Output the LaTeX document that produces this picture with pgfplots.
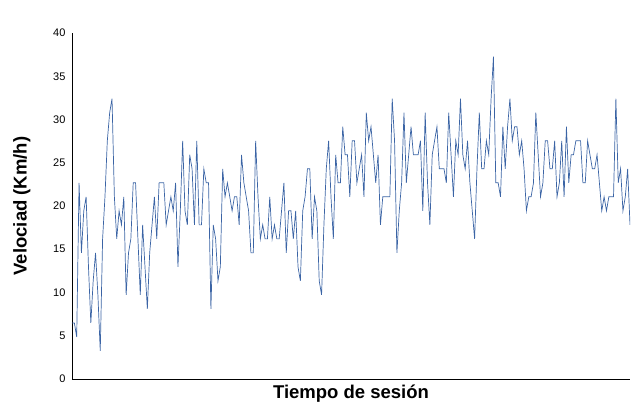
\documentclass[border=0pt]{standalone}
\usepackage{fontspec}
\setmainfont{Liberation Sans}
\usepackage{pgfplots}
\pgfplotsset{compat=1.18}
\usepackage{pgfplotstable}
\usetikzlibrary{calc}
\definecolor{serie}{RGB}{59,100,165}

% velocidad por muestra (km/h)
\pgfplotstableread{
y
6.48
6.48
4.86
22.68
14.58
19.44
21.06
12.96
6.48
11.34
14.58
9.72
3.24
16.20
21.06
27.54
30.78
32.40
21.06
16.20
19.44
17.82
21.06
9.72
14.58
16.20
22.68
22.68
16.20
9.72
17.82
12.96
8.10
14.58
17.82
21.06
16.20
22.68
22.68
22.68
17.82
19.44
21.06
19.44
22.68
12.96
19.44
27.54
19.44
17.82
25.92
24.30
17.82
27.54
17.82
17.82
24.30
22.68
22.68
8.10
17.82
16.20
11.34
12.96
24.30
21.06
22.68
21.06
19.44
21.06
21.06
17.82
25.92
22.68
21.06
19.44
14.58
14.58
27.54
21.06
16.20
17.82
16.20
16.20
21.06
16.20
17.82
16.20
16.20
19.44
22.68
14.58
19.44
19.44
16.20
19.44
12.96
11.34
19.44
21.06
24.30
24.30
16.20
21.06
19.44
11.34
9.72
17.82
24.30
27.54
21.06
16.20
25.92
22.68
22.68
29.16
25.92
25.92
21.06
27.54
27.54
22.68
24.30
25.92
21.06
30.78
27.54
29.16
25.92
22.68
25.92
17.82
21.06
21.06
21.06
21.06
32.40
27.54
14.58
19.44
22.68
30.78
22.68
25.92
29.16
25.92
25.92
25.92
27.54
19.44
30.78
22.68
17.82
25.92
27.54
29.16
24.30
24.30
24.30
22.68
30.78
25.92
21.06
27.54
25.92
32.40
25.92
24.30
27.54
22.68
19.44
16.20
24.30
30.78
24.30
24.30
27.54
25.92
32.40
37.26
22.68
22.68
21.06
29.16
24.30
29.16
32.40
27.54
29.16
29.16
25.92
27.54
24.30
19.44
21.06
21.06
22.68
30.78
25.92
21.06
22.68
27.54
27.54
24.30
24.30
27.54
21.06
22.68
27.54
21.06
29.16
22.68
25.92
25.92
27.54
27.54
27.54
22.68
22.68
27.54
25.92
24.30
24.30
25.92
22.68
19.44
21.06
19.44
21.06
21.06
21.06
32.40
22.68
24.30
19.44
21.06
24.30
17.82
}\velocidad

\begin{document}
\begin{tikzpicture}
\begin{axis}[
  name=ax,
  width=558pt, height=346pt, scale only axis,
  xmin=0, xmax=237, ymin=0, ymax=40,
  ytick={0,5,...,40}, xtick=\empty,
  axis lines*=left,
  axis line style={black, line width=0.8pt},
  major tick length=0pt,
  tick label style={font=\fontsize{11}{12}\selectfont},
  /pgf/number format/assume math mode=true,
  yticklabel style={xshift=-3pt},
  xlabel={Tiempo de sesión},
  ylabel={Velociad (Km/h)},
  every axis y label/.style={at={(axis description cs:-0.09,0.5)}, rotate=90, anchor=center,
    font=\bfseries\fontsize{18.5}{20}\selectfont},
  every axis x label/.style={at={(axis description cs:0.5,-0.042)}, anchor=center,
    font=\bfseries\fontsize{18.5}{20}\selectfont},
]
\addplot[serie, line width=0.7pt, mark=none] table[x expr=\coordindex, y=y] {\velocidad};
\end{axis}
\pgfresetboundingbox
\useasboundingbox ($(ax.south west)+(-72pt,-26pt)$) rectangle ($(ax.north east)+(1pt,33pt)$);
\end{tikzpicture}
\end{document}
